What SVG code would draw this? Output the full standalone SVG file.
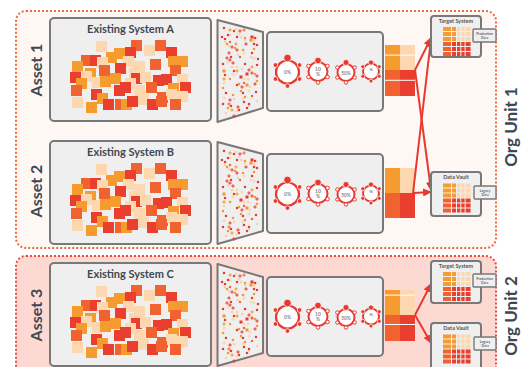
<svg xmlns="http://www.w3.org/2000/svg" width="530" height="367" viewBox="0 0 530 367">
<style>
text{font-family:Lato,"Open Sans","Liberation Sans",sans-serif;}
.box{fill:#efefef;stroke:#787878;stroke-width:2;}
.sbox{fill:#efefef;stroke:#787878;stroke-width:1.4;}
.fun{fill:#efefef;stroke:#787878;stroke-width:2;stroke-linejoin:round;}
.ttl{font-size:11px;font-weight:700;fill:#3d4852;text-anchor:middle;}
.lbl{font-size:16px;font-weight:700;fill:#3d4852;text-anchor:middle;}
.org{font-size:17px;font-weight:700;fill:#3d4852;text-anchor:middle;}
.st{font-size:5.5px;font-weight:700;fill:#555;text-anchor:middle;}
.tiny{font-size:3.4px;font-weight:700;fill:#666;text-anchor:middle;}
.ct{font-size:5px;fill:#888;text-anchor:middle;font-weight:700;}
.cO{fill:#f59b2f}.cP{fill:#fdd7b0}.cM{fill:#f0622f}.cR{fill:#ea3f2f}
.r{color:#e8392f}.o{color:#f6962b}.p{color:#fcd0a4}.m{color:#f06a35}
.ring{fill:#fff;stroke:#e8392f;}
.dot{fill:#e8392f;stroke:#fff;stroke-width:.7;}
.hol{fill:#fff;stroke:#e8392f;stroke-width:1;}
.arr{stroke:#e8392f;stroke-width:2;fill:none;marker-end:url(#ah);}
.sep{fill:#fff;}
</style>
<defs>
<marker id="ah" markerUnits="userSpaceOnUse" markerWidth="9" markerHeight="8" refX="8" refY="4" orient="auto"><path d="M0,0L9,4L0,8z" fill="#e8392f"/></marker>
<rect id="q" width="11" height="11"/>
<rect id="d" x="-1.1" y="-1.1" width="2.2" height="2.2" fill="currentColor"/>
<rect id="D" x="-1.5" y="-1.5" width="3" height="3" fill="currentColor"/>
<path id="x" d="M-1.7 0h3.4M0-1.7v3.4" stroke="currentColor" stroke-width="1"/>
<g id="cluster">
<use href="#q" x="96" y="41" class="cP"/><use href="#q" x="131" y="40" class="cM"/><use href="#q" x="155" y="40" class="cM"/>
<use href="#q" x="114" y="48" class="cO"/><use href="#q" x="125" y="47" class="cR"/><use href="#q" x="144" y="45" class="cP"/>
<use href="#q" x="166" y="47" class="cR"/><use href="#q" x="106" y="52" class="cO"/><use href="#q" x="81" y="55" class="cM"/>
<use href="#q" x="90" y="55" class="cR"/><use href="#q" x="97" y="57" class="cP"/><use href="#q" x="123" y="56" class="cP"/>
<use href="#q" x="168" y="56" class="cO"/><use href="#q" x="177" y="56" class="cO"/><use href="#q" x="150" y="59" class="cM"/>
<use href="#q" x="72" y="61" class="cO"/><use href="#q" x="99" y="65" class="cM"/><use href="#q" x="115" y="63" class="cR"/>
<use href="#q" x="134" y="61" class="cP"/><use href="#q" x="170" y="65" class="cM"/><use href="#q" x="85" y="68" class="cO"/>
<use href="#q" x="129" y="68" class="cP"/><use href="#q" x="70" y="72" class="cR"/><use href="#q" x="81" y="71" class="cP"/>
<use href="#q" x="110" y="73" class="cO"/><use href="#q" x="131" y="73" class="cR"/><use href="#q" x="140" y="72" class="cP"/>
<use href="#q" x="153" y="75" class="cR"/><use href="#q" x="161" y="74" class="cR"/><use href="#q" x="177" y="74" class="cP"/>
<use href="#q" x="76" y="78" class="cO"/><use href="#q" x="92" y="77" class="cP"/><use href="#q" x="100" y="76" class="cO"/>
<use href="#q" x="125" y="78" class="cP"/><use href="#q" x="120" y="82" class="cR"/><use href="#q" x="146" y="82" class="cM"/>
<use href="#q" x="168" y="83" class="cO"/><use href="#q" x="180" y="82" class="cR"/><use href="#q" x="71" y="85" class="cM"/>
<use href="#q" x="114" y="85" class="cR"/><use href="#q" x="134" y="85" class="cP"/><use href="#q" x="91" y="89" class="cR"/>
<use href="#q" x="157" y="92" class="cM"/><use href="#q" x="166" y="89" class="cP"/><use href="#q" x="177" y="91" class="cP"/>
<use href="#q" x="97" y="93" class="cO"/><use href="#q" x="72" y="97" class="cP"/><use href="#q" x="86" y="102" class="cO"/>
<use href="#q" x="103" y="99" class="cR"/><use href="#q" x="115" y="99" class="cM"/><use href="#q" x="121" y="99" class="cO"/>
<use href="#q" x="127" y="96" class="cR"/><use href="#q" x="138" y="94" class="cP"/><use href="#q" x="147" y="99" class="cR"/>
<use href="#q" x="156" y="96" class="cM"/><use href="#q" x="170" y="99" class="cM"/>
</g>
<g id="scat">
<use href="#d" x="224" y="28" class="r"/><use href="#x" x="230" y="30" class="o"/><use href="#d" x="236" y="29" class="p"/>
<use href="#x" x="233" y="63" class="r"/><use href="#d" x="243" y="50" class="o"/><use href="#D" x="241" y="77" class="r"/>
<use href="#d" x="257" y="101" class="p"/><use href="#x" x="230" y="100" class="r"/><use href="#d" x="244" y="83" class="m"/>
<use href="#d" x="234" y="99" class="p"/><use href="#x" x="232" y="110" class="o"/><use href="#d" x="223" y="104" class="r"/>
<use href="#x" x="237" y="111" class="p"/><use href="#d" x="228" y="108" class="o"/><use href="#d" x="258" y="59" class="r"/>
<use href="#x" x="240" y="31" class="r"/><use href="#D" x="252" y="37" class="r"/><use href="#d" x="249" y="106" class="p"/>
<use href="#x" x="238" y="107" class="r"/><use href="#d" x="233" y="95" class="o"/><use href="#x" x="228" y="62" class="p"/>
<use href="#d" x="244" y="102" class="r"/><use href="#x" x="229" y="104" class="m"/><use href="#d" x="257" y="81" class="o"/>
<use href="#d" x="251" y="57" class="p"/><use href="#x" x="252" y="73" class="r"/><use href="#d" x="237" y="37" class="r"/>
<use href="#D" x="247" y="85" class="o"/><use href="#d" x="257" y="45" class="r"/><use href="#x" x="239" y="34" class="p"/>
<use href="#d" x="245" y="38" class="o"/><use href="#x" x="232" y="47" class="r"/><use href="#d" x="224" y="83" class="p"/>
<use href="#d" x="247" y="108" class="r"/><use href="#x" x="252" y="67" class="o"/><use href="#d" x="225" y="75" class="r"/>
<use href="#x" x="224" y="98" class="p"/><use href="#d" x="230" y="42" class="m"/><use href="#d" x="231" y="57" class="r"/>
<use href="#x" x="256" y="38" class="p"/><use href="#d" x="226" y="93" class="r"/><use href="#D" x="251" y="40" class="o"/>
<use href="#x" x="249" y="70" class="r"/><use href="#d" x="232" y="67" class="p"/><use href="#d" x="223" y="88" class="o"/>
<use href="#x" x="229" y="53" class="r"/><use href="#d" x="241" y="37" class="p"/><use href="#D" x="224" y="71" class="o"/>
<use href="#d" x="257" y="65" class="r"/><use href="#x" x="244" y="53" class="p"/><use href="#d" x="239" y="110" class="r"/>
<use href="#d" x="240" y="57" class="m"/><use href="#x" x="236" y="44" class="o"/><use href="#d" x="245" y="64" class="r"/>
<use href="#d" x="254" y="41" class="p"/><use href="#x" x="257" y="76" class="r"/><use href="#d" x="245" y="97" class="o"/>
<use href="#d" x="234" y="71" class="r"/><use href="#x" x="249" y="91" class="p"/><use href="#d" x="252" y="53" class="r"/>
<use href="#d" x="250" y="87" class="p"/><use href="#x" x="246" y="44" class="r"/><use href="#d" x="241" y="91" class="o"/>
<use href="#x" x="229" y="46" class="p"/><use href="#d" x="225" y="39" class="r"/><use href="#d" x="242" y="69" class="p"/>
<use href="#x" x="242" y="87" class="r"/><use href="#d" x="230" y="79" class="o"/><use href="#d" x="223" y="64" class="r"/>
<use href="#x" x="244" y="30" class="m"/><use href="#d" x="238" y="55" class="p"/><use href="#D" x="247" y="74" class="r"/>
<use href="#d" x="230" y="35" class="p"/><use href="#x" x="255" y="84" class="r"/><use href="#d" x="248" y="79" class="p"/>
<use href="#d" x="231" y="106" class="r"/><use href="#x" x="237" y="50" class="r"/><use href="#d" x="235" y="48" class="o"/>
<use href="#d" x="243" y="93" class="r"/><use href="#x" x="224" y="79" class="o"/><use href="#d" x="245" y="40" class="p"/>
<use href="#x" x="243" y="99" class="p"/><use href="#d" x="249" y="104" class="r"/><use href="#d" x="227" y="44" class="o"/>
<use href="#d" x="255" y="38" class="r"/><use href="#x" x="244" y="79" class="p"/><use href="#d" x="255" y="74" class="o"/>
<use href="#d" x="225" y="42" class="p"/><use href="#x" x="227" y="58" class="r"/><use href="#d" x="237" y="85" class="r"/>
<use href="#d" x="254" y="49" class="o"/><use href="#x" x="254" y="58" class="p"/><use href="#d" x="222" y="37" class="r"/>
<use href="#d" x="234" y="31" class="r"/><use href="#x" x="233" y="74" class="p"/><use href="#d" x="254" y="44" class="r"/>
<use href="#d" x="239" y="84" class="o"/><use href="#x" x="230" y="60" class="r"/><use href="#d" x="256" y="92" class="r"/>
<use href="#d" x="237" y="67" class="p"/><use href="#x" x="237" y="71" class="o"/><use href="#d" x="228" y="35" class="r"/>
<use href="#d" x="226" y="113" class="p"/><use href="#x" x="234" y="116" class="r"/><use href="#d" x="252" y="96" class="m"/>
</g>
<g id="rings">
<circle class="ring" cx="287.5" cy="72" r="11.5" stroke-width="2.2"/>
<circle class="dot" cx="287.5" cy="58" r="3.8"/>
<circle class="dot" cx="299.6" cy="65" r="2.3"/><circle class="dot" cx="299.6" cy="79" r="2.3"/><circle class="dot" cx="287.5" cy="86" r="2.3"/><circle class="dot" cx="275.4" cy="79" r="2.3"/><circle class="dot" cx="275.4" cy="65" r="2.3"/>
<text class="ct" x="287.5" y="74">0%</text>
<circle class="ring" cx="318" cy="71.5" r="9.5" stroke-width="2"/>
<circle class="dot" cx="318" cy="60.5" r="3.3"/>
<circle class="hol" cx="327.5" cy="66" r="1.8"/><circle class="hol" cx="327.5" cy="77" r="1.8"/><circle class="hol" cx="318" cy="82.5" r="1.8"/><circle class="hol" cx="308.5" cy="77" r="1.8"/><circle class="hol" cx="308.5" cy="66" r="1.8"/>
<text class="ct" x="318" y="70.5">10</text><text class="ct" x="318" y="76">%</text>
<circle class="ring" cx="346" cy="72.5" r="8.5" stroke-width="2"/>
<circle class="dot" cx="346" cy="62.5" r="3"/>
<circle class="hol" cx="354.7" cy="67.5" r="1.7"/><circle class="hol" cx="354.7" cy="77.5" r="1.7"/><circle class="hol" cx="346" cy="82.5" r="1.7"/><circle class="hol" cx="337.3" cy="77.5" r="1.7"/><circle class="hol" cx="337.3" cy="67.5" r="1.7"/>
<text class="ct" x="346" y="74.5" style="font-size:4.8px">50%</text>
<circle class="ring" cx="371" cy="71.5" r="8" stroke-width="2"/>
<circle class="dot" cx="371" cy="62.5" r="2.6"/>
<circle class="dot" cx="379.2" cy="66.7" r="2"/><circle class="dot" cx="379.2" cy="76.3" r="2"/><circle class="dot" cx="371" cy="81" r="2"/><circle class="dot" cx="362.8" cy="76.3" r="2"/><circle class="dot" cx="362.8" cy="66.7" r="2"/>
<text class="ct" x="371" y="71" style="font-size:4.5px">%</text>
</g>
<g id="grid">
<rect class="cO" x="0" y="0" width="8" height="4"/><rect class="cO" x="9" y="0" width="4" height="4"/><rect class="cP" x="14" y="0" width="3.3" height="4"/><rect class="cP" x="18.3" y="0" width="3.3" height="4"/><rect class="cP" x="22.6" y="0" width="5" height="4"/>
<rect class="cO" x="0" y="5" width="8" height="4"/><rect class="cO" x="9" y="5" width="4" height="4"/><rect class="cP" x="14" y="5" width="3.3" height="4"/><rect class="cP" x="18.3" y="5" width="3.3" height="4"/><rect class="cP" x="22.6" y="5" width="5" height="4"/>
<rect class="cO" x="0" y="10" width="8" height="4"/><rect class="cO" x="9" y="10" width="4" height="4"/><rect class="cP" x="14" y="10" width="3.3" height="4"/><rect class="cP" x="18.3" y="10" width="3.3" height="4"/><rect class="cP" x="22.6" y="10" width="5" height="4"/>
<rect class="cM" x="0" y="15" width="8" height="4"/><rect class="cR" x="9" y="15" width="4" height="4"/><rect class="cR" x="14" y="15" width="3.3" height="4"/><rect class="cR" x="18.3" y="15" width="3.3" height="4"/><rect class="cR" x="22.6" y="15" width="5" height="4"/>
<rect class="cM" x="0" y="20" width="8" height="4"/><rect class="cR" x="9" y="20" width="4" height="4"/><rect class="cR" x="14" y="20" width="3.3" height="4"/><rect class="cR" x="18.3" y="20" width="3.3" height="4"/><rect class="cR" x="22.6" y="20" width="5" height="4"/>
<rect class="cM" x="0" y="25" width="8" height="4"/><rect class="cR" x="9" y="25" width="4" height="4"/><rect class="cR" x="14" y="25" width="3.3" height="4"/><rect class="cR" x="18.3" y="25" width="3.3" height="4"/><rect class="cR" x="22.6" y="25" width="5" height="4"/>
</g>
</defs>

<g id="org-unit-1">
<rect x="16" y="11" width="480" height="237" rx="10" fill="#fef7f4" stroke="#ef6a3a" stroke-width="2" stroke-dasharray="2 2"/>
<text class="org" transform="translate(517,127) rotate(-90)">Org Unit 1</text>
</g>
<g id="org-unit-2">
<rect x="16" y="256" width="480" height="125" rx="10" fill="#fdd9d4" stroke="#ea4a3c" stroke-width="2" stroke-dasharray="2 2"/>
<text class="org" transform="translate(517,316) rotate(-90)">Org Unit 2</text>
</g>

<g id="asset-1-label"><text class="lbl" transform="translate(42,70) rotate(-90)">Asset 1</text></g>
<g id="asset-2-label"><text class="lbl" transform="translate(42,191) rotate(-90)">Asset 2</text></g>
<g id="asset-3-label"><text class="lbl" transform="translate(42,315) rotate(-90)">Asset 3</text></g>

<g id="existing-system-a">
<rect class="box" x="50" y="18" width="161" height="103" rx="4"/>
<text class="ttl" x="130.5" y="33">Existing System A</text>
<use href="#cluster"/>
</g>
<g id="existing-system-b">
<rect class="box" x="50" y="141" width="161" height="103" rx="4"/>
<text class="ttl" x="130.5" y="156">Existing System B</text>
<use href="#cluster" y="123"/>
</g>
<g id="existing-system-c">
<rect class="box" x="50" y="263" width="161" height="103" rx="4"/>
<text class="ttl" x="130.5" y="278">Existing System C</text>
<use href="#cluster" y="245"/>
</g>

<g id="funnel-a">
<polygon class="fun" points="217.5,20 263,32 263,108 217.5,122"/>
<use href="#scat"/>
</g>
<g id="funnel-b">
<polygon class="fun" points="217.5,142 263,154 263,231 217.5,244"/>
<use href="#scat" y="123"/>
</g>
<g id="funnel-c">
<polygon class="fun" points="217.5,264 263,277 263,353 217.5,366"/>
<use href="#scat" y="245"/>
</g>

<g id="processing-a">
<rect class="box" x="267" y="32" width="116" height="79" rx="4"/>
<use href="#rings"/>
</g>
<g id="processing-b">
<rect class="box" x="267" y="154" width="116" height="79" rx="4"/>
<use href="#rings" y="122"/>
</g>
<g id="processing-c">
<rect class="box" x="267" y="277" width="116" height="79" rx="4"/>
<use href="#rings" y="245"/>
</g>

<g id="output-a">
<rect class="cO" x="385" y="45" width="15" height="25"/><rect class="cP" x="400" y="45" width="15" height="25"/>
<rect class="cM" x="385" y="70" width="15" height="26"/><rect class="cR" x="400" y="70" width="15" height="26"/>
<rect class="sep" x="385" y="54.6" width="30" height="1"/><rect class="sep" x="385" y="79.8" width="30" height="1"/>
</g>
<g id="output-b">
<rect class="cO" x="385" y="168" width="15" height="25"/><rect class="cP" x="400" y="168" width="15" height="25"/>
<rect class="cM" x="385" y="193" width="15" height="25"/><rect class="cR" x="400" y="193" width="15" height="25"/>
</g>
<g id="output-c">
<rect class="cO" x="385" y="290" width="15" height="25"/><rect class="cP" x="400" y="290" width="15" height="25"/>
<rect class="cM" x="385" y="315" width="15" height="26"/><rect class="cR" x="400" y="315" width="15" height="26"/>
<rect class="sep" x="385" y="294.6" width="30" height="1"/><rect class="sep" x="385" y="324" width="30" height="1"/>
</g>

<g id="connectors">
<line class="arr" x1="415" y1="70" x2="431" y2="38"/>
<line class="arr" x1="415" y1="70" x2="431" y2="190"/>
<line class="arr" x1="413" y1="193" x2="431" y2="39"/>
<line class="arr" x1="414" y1="193" x2="431" y2="192"/>
<line class="arr" x1="415" y1="315" x2="431" y2="284"/>
<line class="arr" x1="415" y1="315" x2="431" y2="343"/>
</g>

<g id="target-system-1">
<rect class="box" x="431" y="16" width="50" height="41" rx="3"/>
<text class="st" x="456" y="23">Target System</text>
<use href="#grid" x="443" y="27"/>
<rect class="sbox" x="473" y="29" width="23" height="13" rx="1"/>
<text class="tiny" x="484.5" y="34.8">Production</text><text class="tiny" x="484.5" y="39.3">Data</text>
</g>
<g id="data-vault-1">
<rect class="box" x="431" y="172" width="50" height="44" rx="3"/>
<text class="st" x="456" y="179">Data Vault</text>
<use href="#grid" x="443" y="183.5"/>
<rect class="sbox" x="474" y="186" width="22" height="13" rx="1"/>
<text class="tiny" x="485" y="191.8">Legacy</text><text class="tiny" x="485" y="196.3">Data</text>
</g>
<g id="target-system-2">
<rect class="box" x="431" y="261" width="50" height="42" rx="3"/>
<text class="st" x="456" y="268">Target System</text>
<use href="#grid" x="443" y="272"/>
<rect class="sbox" x="473" y="274" width="23" height="13" rx="1"/>
<text class="tiny" x="484.5" y="279.8">Production</text><text class="tiny" x="484.5" y="284.3">Data</text>
</g>
<g id="data-vault-2">
<rect class="box" x="431" y="323" width="50" height="46" rx="3"/>
<text class="st" x="456" y="330">Data Vault</text>
<use href="#grid" x="443" y="334.5"/>
<rect class="sbox" x="474" y="337" width="22" height="13" rx="1"/>
<text class="tiny" x="485" y="342.8">Legacy</text><text class="tiny" x="485" y="347.3">Data</text>
</g>
</svg>
